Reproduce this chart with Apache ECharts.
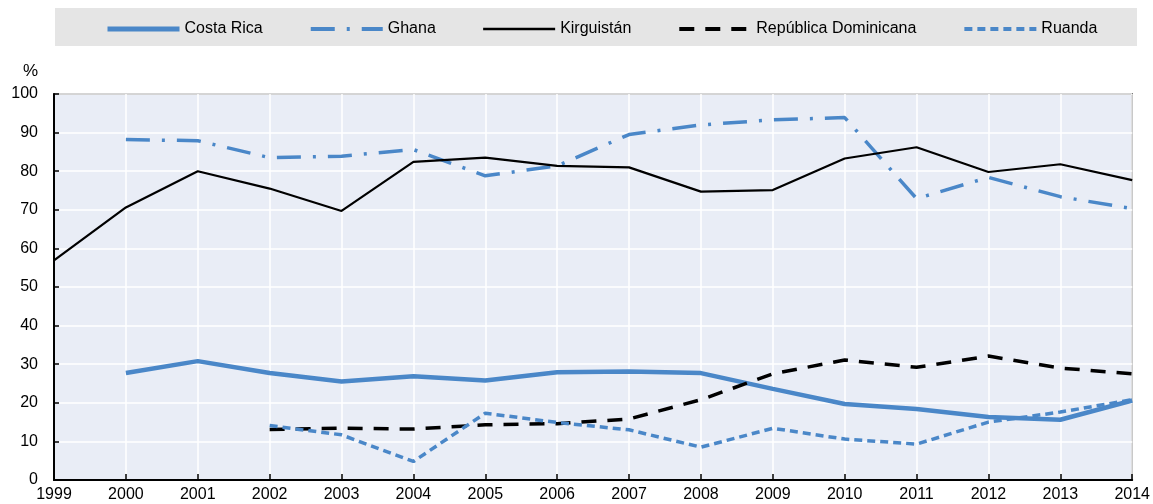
<!DOCTYPE html>
<html>
<head>
<meta charset="utf-8">
<script src="https://cdn.jsdelivr.net/npm/echarts@6/dist/echarts.min.js"></script>
<style>
  html, body { margin: 0; padding: 0; background: #fff; }
  #chart { width: 1153px; height: 504px; }
</style>
</head>
<body>
<div id="chart"></div>
<script>
// años del eje X
const years = ["1999", "2000", "2001", "2002", "2003", "2004", "2005", "2006",
  "2007", "2008", "2009", "2010", "2011", "2012", "2013", "2014"];

// valores en %
const costaRica = [null, 27.7, 30.8, 27.7, 25.5, 26.9, 25.8, 27.9, 28.1, 27.7, 23.6, 19.7, 18.4, 16.3, 15.6, 20.6];
const ghana = [null, 88.2, 87.9, 83.5, 83.9, 85.6, 78.8, 81.4, 89.5, 92.0, 93.3, 93.9, 72.9, 78.4, 73.4, 70.3];
const kirguistan = [56.9, 70.6, 80.0, 75.5, 69.7, 82.4, 83.5, 81.4, 81.0, 74.7, 75.1, 83.3, 86.2, 79.8, 81.8, 77.7];
const repDominicana = [null, null, null, 13.1, 13.4, 13.2, 14.3, 14.6, 15.8, 20.8, 27.5, 31.1, 29.2, 32.1, 29.0, 27.5];
const ruanda = [null, null, null, 14.1, 11.7, 4.8, 17.3, 14.9, 13.0, 8.5, 13.4, 10.6, 9.3, 15.0, 17.6, 20.8];

const BLUE = "#4a87c8";
const FONT = "'Liberation Sans Narrow', 'Arial Narrow', 'Liberation Sans', sans-serif";

// estilo de cada serie: color, grosor, trazo
const estilos = {
  "Costa Rica": [BLUE, 4.5, "solid"],
  "Ghana": [BLUE, 3.5, [24, 12, 3, 12]],
  "Kirguistán": ["#000", 2.2, "solid"],
  "República Dominicana": ["#000", 3.5, [15, 11]],
  "Ruanda": [BLUE, 3.5, [8, 5]],
};

const chart = echarts.init(document.getElementById("chart"));

function serie(name, data) {
  const [color, width, type] = estilos[name];
  return {
    name: name,
    type: "line",
    data: data,
    symbol: "none",
    showSymbol: false,
    connectNulls: false,
    lineStyle: { color: color, width: width, type: type, cap: "butt" },
    itemStyle: { color: color },
  };
}

function itemLeyenda(name) {
  const [color, width, type] = estilos[name];
  return { name: name, lineStyle: { color: color, width: width + 0.5, type: type } };
}

chart.setOption({
  animation: false,
  textStyle: { fontFamily: FONT },
  graphic: [
    {
      type: "rect",
      left: 55,
      top: 8,
      shape: { width: 1082, height: 38 },
      style: { fill: "#e5e5e5" },
      z: -1,
    },
    {
      type: "text",
      left: 23,
      top: 63,
      style: { text: "%", font: "17px " + FONT, fill: "#000" },
    },
  ],
  legend: {
    top: 16,
    left: 100,
    itemWidth: 72,
    itemHeight: 14,
    itemGap: 46,
    itemStyle: { opacity: 0 },
    textStyle: { fontSize: 16, color: "#000", fontFamily: FONT },
    data: Object.keys(estilos).map(itemLeyenda),
  },
  grid: {
    left: 54,
    right: 19,
    top: 94,
    bottom: 24,
    show: true,
    backgroundColor: "#e9edf6",
    borderColor: "#222",
    borderWidth: 1.5,
  },
  xAxis: {
    type: "category",
    data: years,
    boundaryGap: false,
    axisLine: { lineStyle: { color: "#000", width: 2 } },
    axisTick: { inside: true, length: 6, lineStyle: { color: "#000", width: 1.5 } },
    axisLabel: { color: "#000", fontSize: 16, margin: 7, interval: 0, fontFamily: FONT },
    splitLine: { show: true, lineStyle: { color: "#fff", width: 1.5 } },
  },
  yAxis: {
    type: "value",
    min: 0,
    max: 100,
    interval: 10,
    axisLine: { show: true, lineStyle: { color: "#000", width: 2 } },
    axisTick: { show: true, inside: true, length: 5, lineStyle: { color: "#000", width: 1.5 } },
    axisLabel: { color: "#000", fontSize: 16, margin: 16, fontFamily: FONT },
    splitLine: { lineStyle: { color: "#fff", width: 1.5 } },
  },
  series: [
    serie("Costa Rica", costaRica),
    serie("Ghana", ghana),
    serie("Kirguistán", kirguistan),
    serie("República Dominicana", repDominicana),
    serie("Ruanda", ruanda),
  ],
});
</script>
</body>
</html>
